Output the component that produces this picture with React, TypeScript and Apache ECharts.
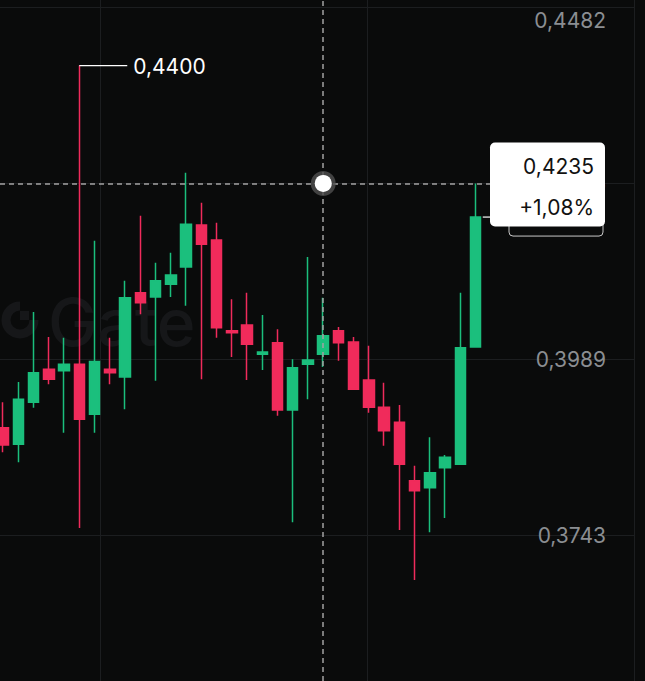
import React, { useEffect, useRef } from 'react';
import * as echarts from 'echarts';

// Candles (index 0..31), price values
const OPEN = [0.3893, 0.3870, 0.3929, 0.3975, 0.3973, 0.3982, 0.3912, 0.3975, 0.3964, 0.4082, 0.4076, 0.4094, 0.4118, 0.4177, 0.4156, 0.4029, 0.4037, 0.3996, 0.4012, 0.3918, 0.3982, 0.3996, 0.4029, 0.4013, 0.3960, 0.3922, 0.3901, 0.3819, 0.3809, 0.3837, 0.3842, 0.4006];
const CLOSE = [0.3869, 0.3933, 0.3970, 0.3961, 0.3982, 0.3905, 0.3986, 0.3970, 0.4075, 0.4068, 0.4099, 0.4107, 0.4178, 0.4150, 0.4033, 0.4026, 0.4010, 0.3999, 0.3918, 0.3977, 0.3988, 0.4022, 0.4012, 0.3947, 0.3922, 0.3889, 0.3842, 0.3805, 0.3830, 0.3852, 0.4005, 0.4188];
const LOW = [0.3859, 0.3845, 0.3921, 0.3954, 0.3886, 0.3753, 0.3886, 0.3954, 0.3919, 0.4052, 0.3959, 0.4076, 0.4064, 0.3961, 0.4019, 0.3992, 0.3960, 0.3974, 0.3910, 0.3761, 0.3933, 0.3978, 0.3987, 0.3946, 0.3914, 0.3868, 0.3750, 0.3680, 0.3747, 0.3767, 0.3841, 0.4005];
const HIGH = [0.3929, 0.3957, 0.4055, 0.4020, 0.4019, 0.4400, 0.4155, 0.4019, 0.4099, 0.4190, 0.4124, 0.4138, 0.4250, 0.4208, 0.4180, 0.4073, 0.4082, 0.4051, 0.4031, 0.3989, 0.4132, 0.4075, 0.4034, 0.4020, 0.4008, 0.3956, 0.3925, 0.3840, 0.3880, 0.3855, 0.4082, 0.4235];

// Price axis tick labels
const Y_TICKS = [0.3743, 0.3989, 0.4235, 0.4482];
// Vertical time grid lines, in candle-index units
const X_GRID = [6.36, 23.87, 41.38];

// Crosshair / annotations
const CROSS_INDEX = 21;
const CROSS_PRICE = 0.4235;
const CROSS_CHANGE = 1.08;
const PEAK_INDEX = 5;

const X_MIN = -0.197;
const X_MAX = 41.443;
const Y_MIN = 0.35387;
const Y_MAX = 0.44918;

const UP = '#1bbf7d';
const DOWN = '#f02b5b';
const BG = '#0a0b0b';
const GRID = '#1c1e20';
const FONT = 'Inter, "Noto Sans", sans-serif';

const fmt = (v: number) => v.toFixed(4).replace('.', ',');

export default function App() {
  const ref = useRef<HTMLDivElement>(null);

  useEffect(() => {
    document.body.style.margin = '0';
    const chart = echarts.init(ref.current!, null, { renderer: 'svg' });
    const candles = OPEN.map((o, i) => [i, o, CLOSE[i], LOW[i], HIGH[i]]);
    const last = CLOSE.length - 1;

    chart.setOption({
      animation: false,
      backgroundColor: BG,
      grid: { left: 0, right: 10, top: 0, bottom: 0 },
      xAxis: {
        type: 'value',
        min: X_MIN,
        max: X_MAX,
        axisLine: { show: false },
        axisTick: { show: false },
        axisLabel: { show: false },
        splitLine: { show: false },
      },
      yAxis: {
        type: 'value',
        position: 'right',
        min: Y_MIN,
        max: Y_MAX,
        axisLine: { show: false },
        axisTick: { show: false, customValues: Y_TICKS },
        axisLabel: {
          inside: true,
          margin: 29,
          customValues: Y_TICKS,
          formatter: (v: number) => fmt(v),
          color: '#8b8e92',
          fontSize: 21,
          lineHeight: 26,
          fontFamily: FONT,
          verticalAlignMaxLabel: 'top',
        },
        splitLine: { show: true, lineStyle: { color: GRID, width: 1 } },
      },
      series: [
        {
          type: 'line',
          data: [],
          silent: true,
          markLine: {
            z: 0,
            silent: true,
            symbol: ['none', 'none'],
            label: { show: false },
            lineStyle: { color: GRID, width: 1, type: 'solid' },
            data: X_GRID.map((x) => ({ xAxis: x })),
          },
        },
        {
          type: 'candlestick',
          data: candles,
          barWidth: 11,
          itemStyle: {
            color: UP,
            color0: DOWN,
            borderColor: UP,
            borderColor0: DOWN,
            borderWidth: 1.5,
          },
          markLine: {
            z: 5,
            silent: true,
            symbol: ['none', 'none'],
            label: { show: false },
            lineStyle: { color: '#a3a3a3', width: 1.5, type: [5, 4] },
            data: [
              { xAxis: CROSS_INDEX },
              [{ coord: [X_MIN, CROSS_PRICE] }, { coord: [last + 1, CROSS_PRICE] }],
            ],
          },
        },
      ],
    });

    const px = (x: number, y: number) => chart.convertToPixel({ gridIndex: 0 }, [x, y]) as number[];
    const peak = px(PEAK_INDEX, HIGH[PEAK_INDEX]);
    const cross = px(CROSS_INDEX, CROSS_PRICE);
    const lastPt = px(last, CLOSE[last]);
    const boxLeft = px(last + 1, CROSS_PRICE)[0] - 1;

    chart.setOption({
      graphic: [
        // watermark
        {
          type: 'arc', z: 1, silent: true,
          shape: { cx: 20, cy: 320, r: 14, startAngle: 0, endAngle: Math.PI * 1.5, clockwise: true },
          style: { stroke: '#161719', lineWidth: 9, fill: null },
        },
        { type: 'rect', z: 1, silent: true, shape: { x: 20, y: 311, width: 9, height: 9 }, style: { fill: '#161719' } },
        {
          type: 'text', z: 1, silent: true, x: 48, y: 322,
          style: { text: 'Gate', fill: '#161719', fontSize: 66, fontWeight: 500, fontFamily: FONT, verticalAlign: 'middle' },
        },
        // peak annotation
        {
          type: 'line', z: 100, silent: true,
          shape: { x1: peak[0], y1: peak[1], x2: peak[0] + 48, y2: peak[1] },
          style: { stroke: '#ffffff', lineWidth: 1.2 },
        },
        {
          type: 'text', z: 100, silent: true, x: peak[0] + 54, y: peak[1] + 1,
          style: { text: fmt(HIGH[PEAK_INDEX]), fill: '#ffffff', fontSize: 21, fontFamily: FONT, verticalAlign: 'middle' },
        },
        // crosshair dot
        { type: 'circle', z: 100, silent: true, shape: { cx: cross[0], cy: cross[1], r: 12.5 }, style: { fill: 'rgba(80,80,80,0.8)' } },
        { type: 'circle', z: 101, silent: true, shape: { cx: cross[0], cy: cross[1], r: 8.5 }, style: { fill: '#ffffff' } },
        // last price tick + box (its text is hidden behind the tooltip)
        {
          type: 'line', z: 100, silent: true,
          shape: { x1: lastPt[0] + 7, y1: lastPt[1], x2: 509, y2: lastPt[1] },
          style: { stroke: '#ffffff', lineWidth: 1.2 },
        },
        {
          type: 'rect', z: 100, silent: true,
          shape: { x: 509, y: lastPt[1] - 16, width: 94, height: 35, r: 4 },
          style: { fill: BG, stroke: '#c9c9c9', lineWidth: 1 },
        },
        // tooltip box
        {
          type: 'rect', z: 110, silent: true,
          shape: { x: boxLeft, y: cross[1] - 41, width: 115, height: 84, r: 5 },
          style: { fill: '#ffffff' },
        },
        {
          type: 'text', z: 111, silent: true, x: boxLeft + 104, y: cross[1] - 17,
          style: { text: fmt(CROSS_PRICE), fill: '#111111', fontSize: 21, fontFamily: FONT, align: 'right', verticalAlign: 'middle' },
        },
        {
          type: 'text', z: 111, silent: true, x: boxLeft + 104, y: cross[1] + 24,
          style: { text: '+' + CROSS_CHANGE.toFixed(2).replace('.', ',') + '%', fill: '#111111', fontSize: 21, fontFamily: FONT, align: 'right', verticalAlign: 'middle' },
        },
      ],
    });

    return () => chart.dispose();
  }, []);

  return <div ref={ref} style={{ position: 'fixed', left: 0, top: 0, width: 645, height: 681 }} />;
}
